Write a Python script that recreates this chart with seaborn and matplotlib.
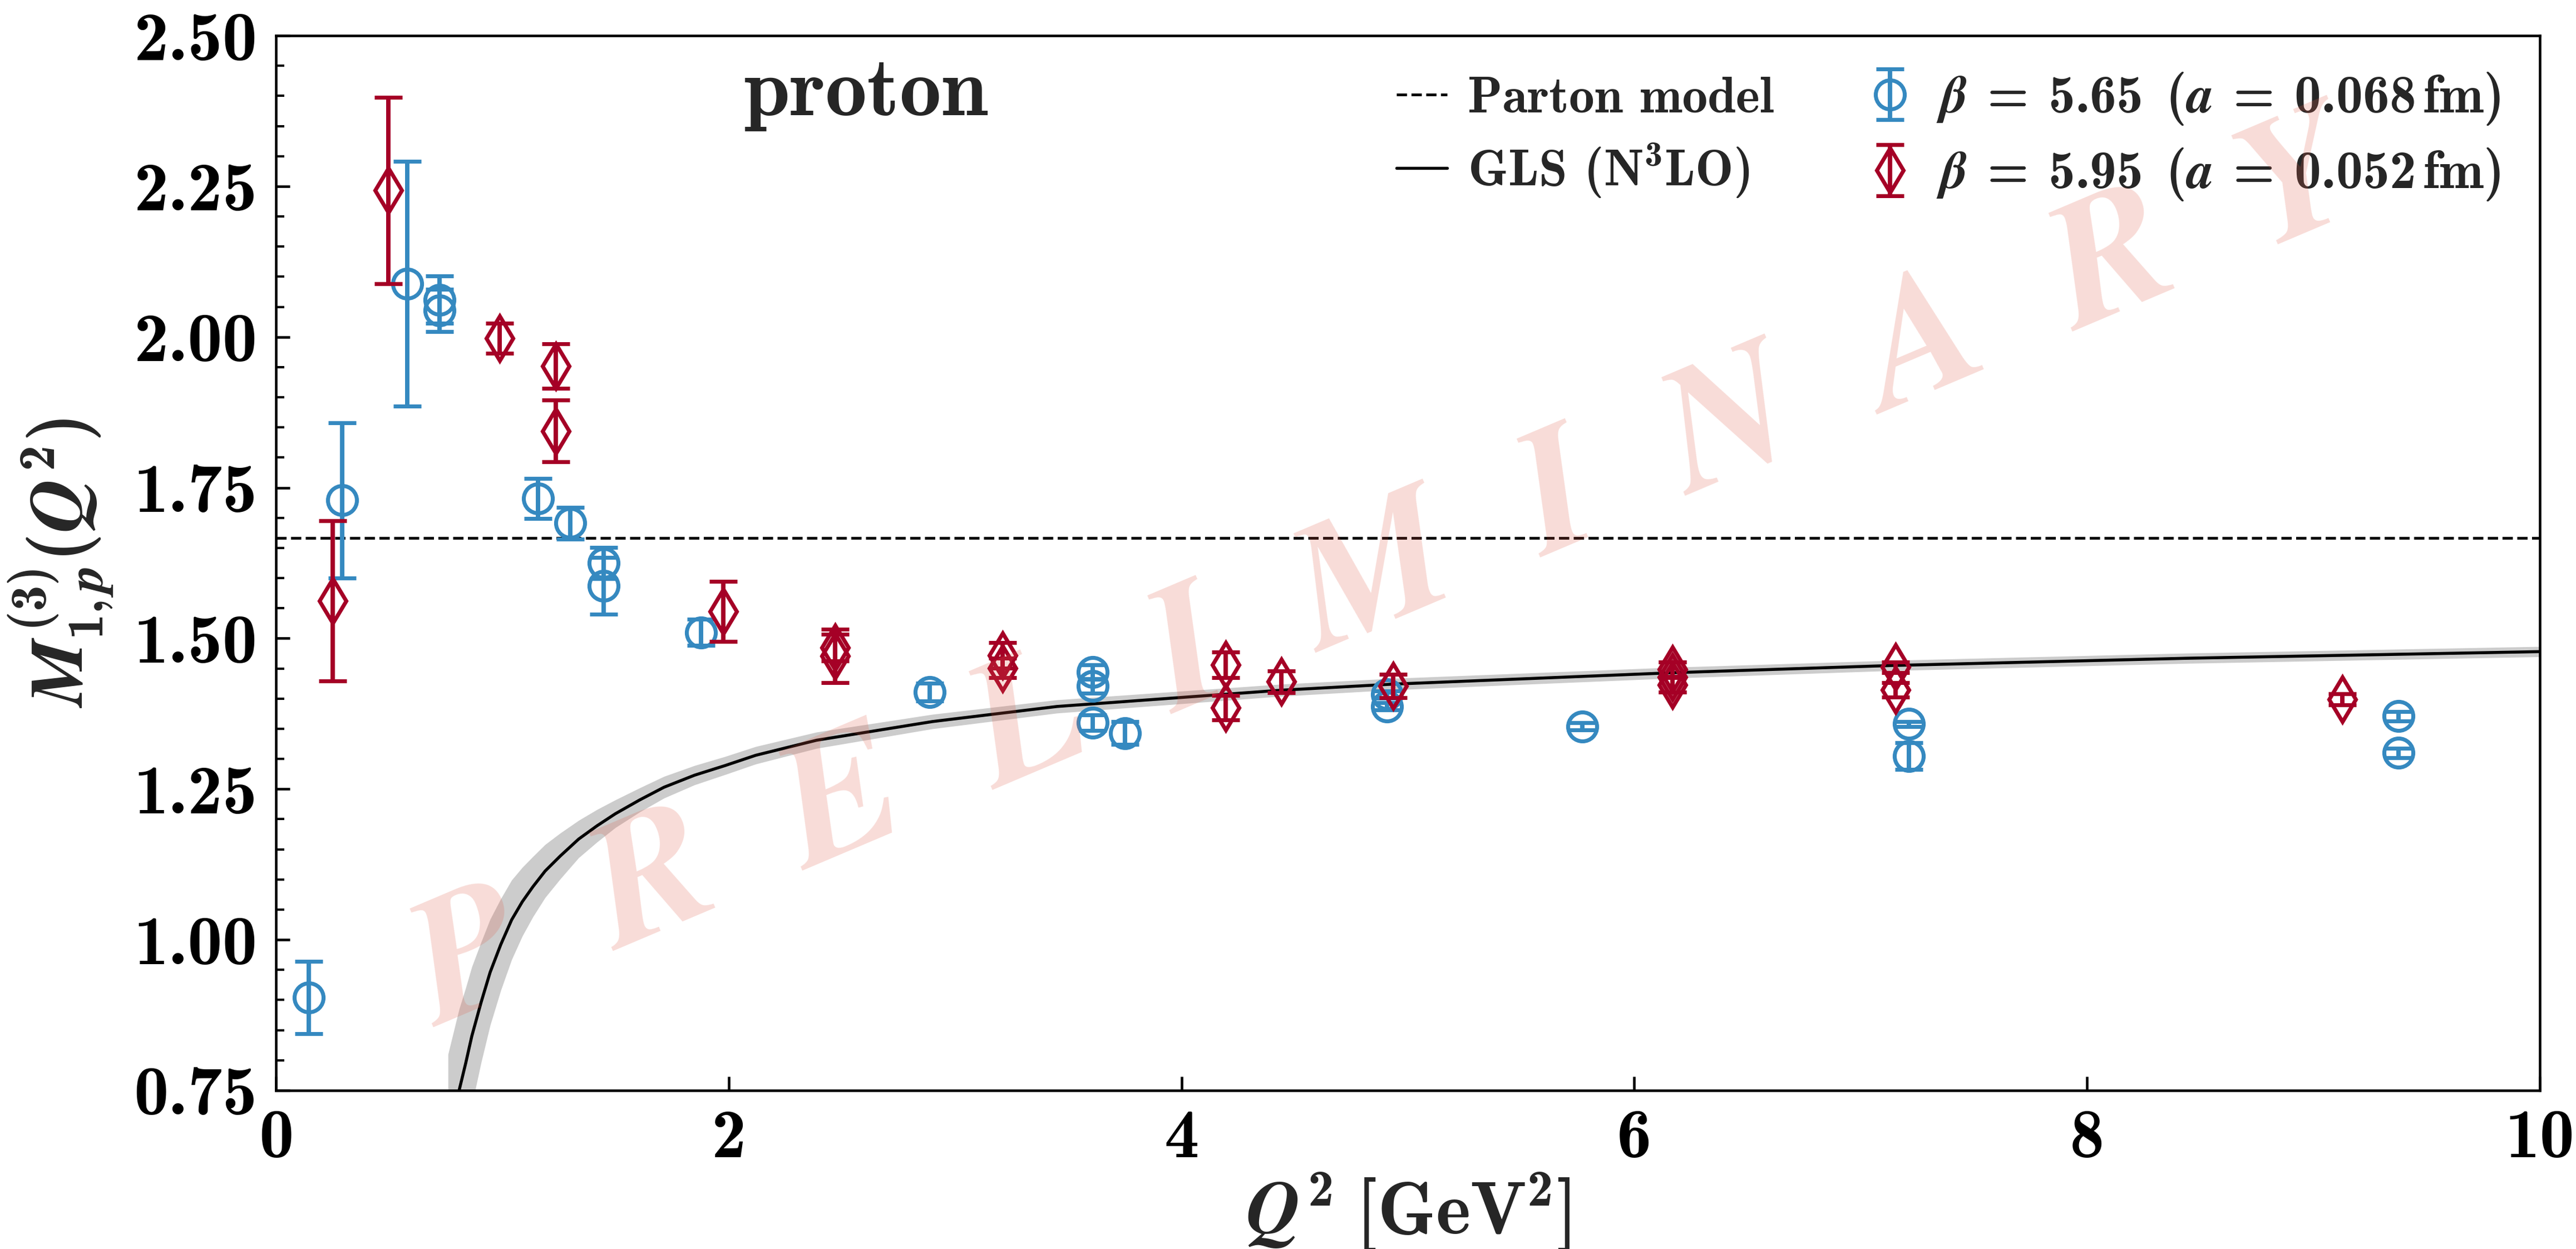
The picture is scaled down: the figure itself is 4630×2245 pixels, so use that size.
import numpy as np
import matplotlib
matplotlib.use("Agg")
import matplotlib.pyplot as plt
import seaborn as sns
from matplotlib.ticker import MultipleLocator, FormatStrFormatter

# ---- lattice data: beta = 5.65 (a = 0.068 fm) ----
q2_b565 = [0.146, 0.292, 0.581, 0.722, 0.722, 1.157, 1.300, 1.447, 1.447, 1.877,
           2.888, 3.608, 3.608, 3.608, 3.751, 4.907, 4.907, 5.771, 7.214, 7.214,
           9.376, 9.376]
m_b565 = [0.904, 1.729, 2.088, 2.062, 2.044, 1.732, 1.691, 1.625, 1.587, 1.510,
          1.411, 1.444, 1.421, 1.360, 1.343, 1.407, 1.387, 1.354, 1.358, 1.305,
          1.371, 1.310]
err_b565 = [0.060, 0.129, 0.203, 0.039, 0.035, 0.033, 0.026, 0.026, 0.047, 0.022,
            0.015, 0.012, 0.012, 0.013, 0.019, 0.006, 0.006, 0.006, 0.004, 0.022,
            0.008, 0.008]

# ---- lattice data: beta = 5.95 (a = 0.052 fm) ----
q2_b595 = [0.250, 0.497, 0.989, 1.236, 1.236, 1.975, 2.470, 2.470, 3.210, 3.210,
           4.196, 4.196, 4.440, 4.935, 6.168, 6.168, 6.168, 7.154, 7.154, 9.128]
m_b595 = [1.562, 2.243, 1.998, 1.952, 1.844, 1.545, 1.485, 1.471, 1.472, 1.451,
          1.456, 1.385, 1.428, 1.421, 1.449, 1.436, 1.423, 1.452, 1.415, 1.399]
err_b595 = [0.133, 0.155, 0.025, 0.037, 0.051, 0.050, 0.022, 0.044, 0.021, 0.016,
            0.021, 0.020, 0.018, 0.019, 0.012, 0.025, 0.012, 0.009, 0.012, 0.009]

# ---- GLS sum rule at N3LO with its uncertainty band ----
gls_q2 = [0.760, 0.809, 0.838, 0.865, 0.906, 0.946, 0.993, 1.041, 1.088, 1.135,
          1.189, 1.256, 1.337, 1.418, 1.499, 1.607, 1.714, 1.849, 1.984, 2.119,
          2.388, 2.900, 3.450, 4.440, 4.930, 6.170, 7.140, 8.440, 10.000]
gls_m = [0.660, 0.750, 0.795, 0.840, 0.896, 0.946, 0.992, 1.033, 1.063, 1.088,
         1.114, 1.139, 1.167, 1.189, 1.209, 1.232, 1.253, 1.273, 1.289, 1.306,
         1.331, 1.362, 1.387, 1.414, 1.424, 1.443, 1.455, 1.467, 1.478]
gls_err = [0.150, 0.135, 0.125, 0.115, 0.100, 0.088, 0.076, 0.066, 0.057, 0.050,
           0.044, 0.038, 0.031, 0.027, 0.023, 0.020, 0.018, 0.016, 0.015, 0.0145,
           0.0135, 0.012, 0.011, 0.010, 0.0095, 0.009, 0.0085, 0.0085, 0.0085]

parton_value = 1.6667

x_ticks = [0, 2, 4, 6, 8, 10]
y_ticks = [0.75, 1.00, 1.25, 1.50, 1.75, 2.00, 2.25, 2.50]

BLUE = "#3589c0"
RED = "#a50026"

sns.set_theme(style="ticks")
plt.rcParams.update({
    "font.family": ["cmb10", "DejaVu Serif"],
    "mathtext.fontset": "custom",
    "mathtext.rm": "cmb10",
    "mathtext.bf": "cmb10",
    "mathtext.it": "STIXGeneral:italic:bold",
    "axes.unicode_minus": False,
    "axes.linewidth": 1.1,
    "axes.edgecolor": "black",
    "xtick.direction": "in",
    "ytick.direction": "in",
    "xtick.color": "black",
    "ytick.color": "black",
})

fig = plt.figure(figsize=(4630 / 300, 2245 / 300), dpi=300)
ax = fig.add_axes([0.10713, 0.12695, 0.87883, 0.84454])

# uncertainty band and central curve
g_lo = np.array(gls_m) - np.array(gls_err)
g_hi = np.array(gls_m) + np.array(gls_err)
ax.fill_between(gls_q2, g_lo, g_hi, color="0.80", lw=0, zorder=1)
sns.lineplot(x=gls_q2, y=gls_m, ax=ax, color="black", lw=1.3, zorder=2,
             legend=False, sort=False)
gls_line = ax.lines[-1]

parton_line = ax.axhline(parton_value, color="black", lw=1.2, ls="--", zorder=2)

eb1 = ax.errorbar(q2_b565, m_b565, yerr=err_b565, fmt="o", color=BLUE,
                  mfc="none", mec=BLUE, ms=12.5, mew=1.7, elinewidth=1.9,
                  capsize=6, capthick=1.9, zorder=4)
eb2 = ax.errorbar(q2_b595, m_b595, yerr=err_b595, fmt="d", color=RED,
                  mfc="none", mec=RED, ms=13.6, mew=1.7, elinewidth=1.9,
                  capsize=6, capthick=1.9, zorder=5)

ax.set_xlim(0, 10)
ax.set_ylim(0.75, 2.5)
ax.set_xticks(x_ticks)
ax.set_yticks(y_ticks)
ax.yaxis.set_major_formatter(FormatStrFormatter("%.2f"))
ax.yaxis.set_minor_locator(MultipleLocator(0.05))
ax.tick_params(axis="both", which="major", labelsize=30, length=6, width=1.1,
               pad=8, top=False, right=False)
ax.tick_params(axis="y", which="minor", length=3.5, width=1.0, left=True, right=False)
ax.tick_params(axis="x", which="minor", bottom=False, top=False)

ax.set_xlabel(r"$Q^2\ [\mathrm{GeV}^2]$", fontsize=32, labelpad=0)
ax.set_ylabel(r"$M^{(3)}_{1,p}(Q^2)$", fontsize=32, labelpad=8)

ax.text(0.2605, 0.9246, "proton", transform=ax.transAxes, ha="center",
        va="baseline", fontsize=36)

ax.text(4.90, 1.60, "P  R  E  L  I  M  I  N  A  R  Y", rotation=23,
        rotation_mode="anchor", ha="center", va="center", fontsize=76,
        family="STIXGeneral", style="italic", weight="bold",
        color="#e0604c", alpha=0.22, zorder=10)

leg = ax.legend([parton_line, gls_line, eb1, eb2],
                ["Parton model", r"GLS (N$^{3}$LO)",
                 r"$\beta\;=\;5.65\;\;(a\;=\;0.068\,\mathrm{fm})$",
                 r"$\beta\;=\;5.95\;\;(a\;=\;0.052\,\mathrm{fm})$"],
                ncol=2, loc="upper right", bbox_to_anchor=(0.996, 0.996),
                frameon=False, fontsize=22, handlelength=1.0,
                handletextpad=0.4, columnspacing=1.78, labelspacing=0.39,
                borderaxespad=0.2)
for t in leg.get_texts()[2:]:
    t.set_fontsize(23)

fig.savefig("out.png", dpi=300)
